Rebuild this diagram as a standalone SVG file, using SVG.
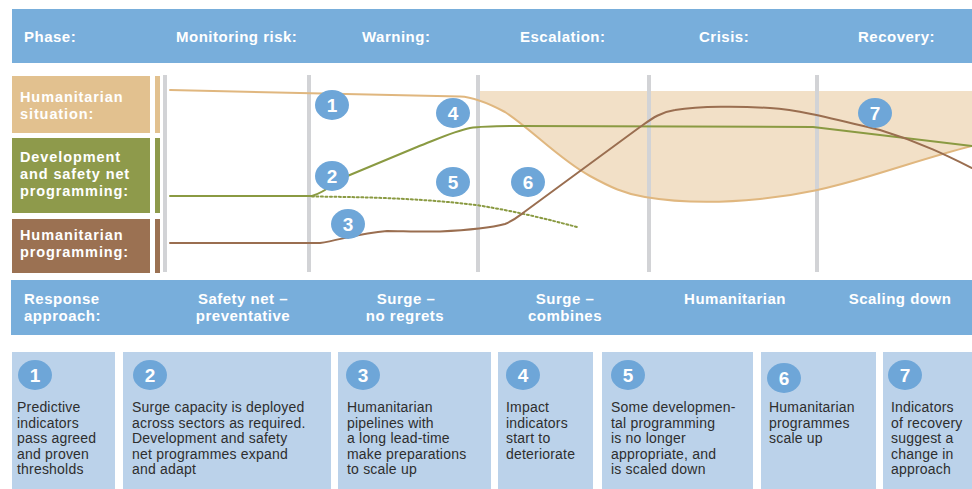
<svg xmlns="http://www.w3.org/2000/svg" width="972" height="489" viewBox="0 0 972 489">
<style>
.bar{fill:#78AEDB}
.hd{font-family:"Liberation Sans",Arial,sans-serif;font-weight:bold;font-size:15px;fill:#fff;letter-spacing:0.5px}
.hdc{text-anchor:middle}
.lab{font-family:"Liberation Sans",Arial,sans-serif;font-weight:bold;font-size:14.5px;fill:#fff;letter-spacing:0.9px}
.vl{fill:#D2D3D6}
.badge{fill:#6EA6D8}
.num{font-family:"Liberation Sans",Arial,sans-serif;font-weight:bold;font-size:19px;fill:#fff;text-anchor:middle}
.box{fill:#BBD2EA}
.txt{font-family:"Liberation Sans",Arial,sans-serif;font-size:14px;fill:#2E2E2E;letter-spacing:0.2px}
.cv{fill:none;stroke-width:2;stroke-linecap:round;stroke-linejoin:round}
</style>
<rect width="972" height="489" fill="#fff"/>

<g id="header">
<rect class="bar" x="12" y="9" width="960" height="54"/>
<text class="hd" x="24" y="42">Phase:</text>
<text class="hd" x="176" y="42">Monitoring risk:</text>
<text class="hd" x="362" y="42">Warning:</text>
<text class="hd" x="520" y="42">Escalation:</text>
<text class="hd" x="699" y="42">Crisis:</text>
<text class="hd" x="858" y="42">Recovery:</text>
</g>

<g id="row-labels">
<g id="label-situation">
<rect x="12" y="76" width="138" height="57" fill="#E2C18F"/>
<rect x="155" y="76" width="5" height="57" fill="#E2C18F"/>
<text class="lab" x="20" y="102">Humanitarian</text>
<text class="lab" x="20" y="119">situation:</text>
</g>
<g id="label-development">
<rect x="12" y="138" width="138" height="75" fill="#8E9A4B"/>
<rect x="155" y="138" width="5" height="75" fill="#8E9A4B"/>
<text class="lab" x="20" y="162">Development</text>
<text class="lab" x="20" y="179">and safety net</text>
<text class="lab" x="20" y="196">programming:</text>
</g>
<g id="label-humprog">
<rect x="12" y="219" width="138" height="54" fill="#9B7152"/>
<rect x="155" y="219" width="5" height="54" fill="#9B7152"/>
<text class="lab" x="20" y="240">Humanitarian</text>
<text class="lab" x="20" y="257">programming:</text>
</g>
</g>

<g id="chart">
<path d="M478,91 H972 V146 C940,154 910,164 870,176 C830,188 800,195 760,199 C720,203 680,203 645,197 C625,194 610,187 590,176 C560,160 530,128 505,112 C495,106 486,102 478,100 Z" fill="#F2E0C7"/>
<rect class="vl" x="163" y="75" width="4" height="197"/>
<rect class="vl" x="307" y="75" width="4" height="197"/>
<rect class="vl" x="476" y="75" width="4" height="197"/>
<rect class="vl" x="647" y="75" width="4" height="197"/>
<rect class="vl" x="815" y="75" width="4" height="197"/>
</g>

<g id="connectors">
<path class="cv" stroke="#E0B77F" d="M170,90 L460,96.5 C475,97 490,104 505,112 C530,128 560,160 590,176 C610,187 625,194 645,197 C680,203 720,203 760,199 C800,195 830,188 870,176 C910,164 940,154 972,146"/>
<path class="cv" stroke="#8A9A42" d="M170,196 L312,196 C325,192 335,183 345,177 L417,147 C440,138 455,131 470,128 C480,126.5 490,126 520,126 L813,127 C850,131 900,137 972,146"/>
<path class="cv" stroke="#8A9A42" stroke-dasharray="2 2.5" stroke-linecap="butt" d="M312,196.5 C360,197 420,198 476,205 C520,212 550,220 577,227"/>
<path class="cv" stroke="#9A6E50" d="M170,243 L320,243 C340,240 360,233 387,231 C400,231 420,232 440,231.5 C470,230 490,228 505,224 C515,220 520,215 527,210 L640,127 C650,120 660,112 675,110 C700,106 740,106 770,108 C800,110 830,118 880,130 C920,142 950,157 972,168"/>
</g>

<g id="markers">
<g id="m1"><ellipse class="badge" cx="332" cy="105" rx="17" ry="15"/><text class="num" x="332" y="112">1</text></g>
<g id="m2"><ellipse class="badge" cx="332" cy="176" rx="17" ry="15"/><text class="num" x="332" y="183">2</text></g>
<g id="m3"><ellipse class="badge" cx="348" cy="224" rx="17" ry="15"/><text class="num" x="348" y="231">3</text></g>
<g id="m4"><ellipse class="badge" cx="453" cy="113" rx="17" ry="15"/><text class="num" x="453" y="120">4</text></g>
<g id="m5"><ellipse class="badge" cx="453" cy="182" rx="17" ry="15"/><text class="num" x="453" y="189">5</text></g>
<g id="m6"><ellipse class="badge" cx="528" cy="182" rx="17" ry="15"/><text class="num" x="528" y="189">6</text></g>
<g id="m7"><ellipse class="badge" cx="875" cy="113" rx="17" ry="15"/><text class="num" x="875" y="120">7</text></g>
</g>

<g id="response">
<rect class="bar" x="11" y="280" width="961" height="55"/>
<text class="hd" x="24" y="304">Response</text>
<text class="hd" x="24" y="321">approach:</text>
<text class="hd hdc" x="243" y="304">Safety net –</text>
<text class="hd hdc" x="243" y="321">preventative</text>
<text class="hd hdc" x="406" y="304">Surge –</text>
<text class="hd hdc" x="405" y="321">no regrets</text>
<text class="hd hdc" x="565" y="304">Surge –</text>
<text class="hd hdc" x="565" y="321">combines</text>
<text class="hd hdc" x="735" y="304">Humanitarian</text>
<text class="hd hdc" x="900" y="304">Scaling down</text>
</g>

<g id="box1">
<rect class="box" x="12" y="352" width="103" height="137"/>
<ellipse class="badge" cx="35" cy="375" rx="17" ry="15"/><text class="num" x="35" y="382">1</text>
<text class="txt"><tspan x="17" y="412">Predictive</tspan><tspan x="17" y="427.5">indicators</tspan><tspan x="17" y="443">pass agreed</tspan><tspan x="17" y="458.5">and proven</tspan><tspan x="17" y="474">thresholds</tspan></text>
</g>
<g id="box2">
<rect class="box" x="123" y="352" width="208" height="137"/>
<ellipse class="badge" cx="150" cy="375" rx="17" ry="15"/><text class="num" x="150" y="382">2</text>
<text class="txt"><tspan x="132" y="412">Surge capacity is deployed</tspan><tspan x="132" y="427.5">across sectors as required.</tspan><tspan x="132" y="443">Development and safety</tspan><tspan x="132" y="458.5">net programmes expand</tspan><tspan x="132" y="474">and adapt</tspan></text>
</g>
<g id="box3">
<rect class="box" x="338" y="352" width="153" height="137"/>
<ellipse class="badge" cx="363" cy="375" rx="17" ry="15"/><text class="num" x="363" y="382">3</text>
<text class="txt"><tspan x="347" y="412">Humanitarian</tspan><tspan x="347" y="427.5">pipelines with</tspan><tspan x="347" y="443">a long lead-time</tspan><tspan x="347" y="458.5">make preparations</tspan><tspan x="347" y="474">to scale up</tspan></text>
</g>
<g id="box4">
<rect class="box" x="498" y="352" width="95" height="137"/>
<ellipse class="badge" cx="523" cy="375" rx="17" ry="15"/><text class="num" x="523" y="382">4</text>
<text class="txt"><tspan x="506" y="412">Impact</tspan><tspan x="506" y="427.5">indicators</tspan><tspan x="506" y="443">start to</tspan><tspan x="506" y="458.5">deteriorate</tspan></text>
</g>
<g id="box5">
<rect class="box" x="602" y="352" width="151" height="137"/>
<ellipse class="badge" cx="628" cy="375" rx="17" ry="15"/><text class="num" x="628" y="382">5</text>
<text class="txt"><tspan x="611" y="412">Some developmen-</tspan><tspan x="611" y="427.5">tal programming</tspan><tspan x="611" y="443">is no longer</tspan><tspan x="611" y="458.5">appropriate, and</tspan><tspan x="611" y="474">is scaled down</tspan></text>
</g>
<g id="box6">
<rect class="box" x="761" y="352" width="115" height="137"/>
<ellipse class="badge" cx="784" cy="378" rx="17" ry="15"/><text class="num" x="784" y="385">6</text>
<text class="txt"><tspan x="769" y="412">Humanitarian</tspan><tspan x="769" y="427.5">programmes</tspan><tspan x="769" y="443">scale up</tspan></text>
</g>
<g id="box7">
<rect class="box" x="883" y="352" width="89" height="137"/>
<ellipse class="badge" cx="905" cy="375" rx="17" ry="15"/><text class="num" x="905" y="382">7</text>
<text class="txt"><tspan x="891" y="412">Indicators</tspan><tspan x="891" y="427.5">of recovery</tspan><tspan x="891" y="443">suggest a</tspan><tspan x="891" y="458.5">change in</tspan><tspan x="891" y="474">approach</tspan></text>
</g>
</svg>
